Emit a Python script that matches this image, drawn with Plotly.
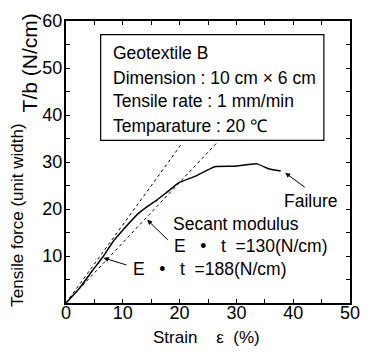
import plotly.graph_objects as go

# ---- data ----
strain = [0, 2.4, 4.6, 6.6, 8.3, 10.3, 12.6, 14.3, 16.0, 18.0, 19.9, 22.8, 26.2, 29.6, 33.6, 35.8, 37.8]
force = [0, 3.2, 6.8, 10.0, 13.1, 15.9, 18.9, 20.5, 21.9, 23.8, 25.6, 27.0, 29.0, 29.1, 29.6, 28.5, 28.1]

tangent_x = [0, 20.2]
tangent_y = [0, 33.6]
secant_x = [0, 26.8]
secant_y = [0, 34.4]

x_ticks = [0, 10, 20, 30, 40, 50]
y_ticks = [10, 20, 30, 40, 50, 60]

box_lines = [
    "Geotextile B",
    "Dimension : 10 cm × 6 cm",
    "Tensile rate : 1 mm/min",
    "Temparature : 20 ℃",
]

FONT = "Liberation Sans, Arial, Helvetica, sans-serif"
FS = 17.5

fig = go.Figure()
fig.add_trace(go.Scatter(x=tangent_x, y=tangent_y, mode="lines",
                         line=dict(color="black", width=1, dash="dot"), hoverinfo="skip"))
fig.add_trace(go.Scatter(x=secant_x, y=secant_y, mode="lines",
                         line=dict(color="black", width=1, dash="dot"), hoverinfo="skip"))
fig.add_trace(go.Scatter(x=strain, y=force, mode="lines", line_shape="spline",
                         line=dict(color="black", width=1.5, smoothing=0.4), hoverinfo="skip"))

# info box
fig.add_shape(type="rect", x0=6.1, x1=45.4, y0=34.6, y1=57.1, xref="x", yref="y",
              line=dict(color="black", width=1.2), fillcolor="white", layer="above")
box_y = [53.1, 47.9, 42.9, 37.7]
anns = []
for txt, yy in zip(box_lines, box_y):
    anns.append(dict(x=8.0, y=yy, xref="x", yref="y", text=txt, showarrow=False,
                     xanchor="left", yanchor="middle", font=dict(size=FS, color="black", family=FONT)))

# labels with arrows
anns.append(dict(x=38.6, y=27.7, ax=42.3, ay=24.4, xref="x", yref="y", axref="x", ayref="y",
                 text="", showarrow=True, arrowhead=2, arrowsize=1, arrowwidth=1, arrowcolor="black"))
anns.append(dict(x=38.1, y=21.6, xref="x", yref="y", text="Failure", showarrow=False,
                 xanchor="left", yanchor="middle", font=dict(size=FS, color="black", family=FONT)))

anns.append(dict(x=14.3, y=17.7, ax=18.2, ay=13.1, xref="x", yref="y", axref="x", ayref="y",
                 text="", showarrow=True, arrowhead=2, arrowsize=1, arrowwidth=1, arrowcolor="black"))
anns.append(dict(x=18.5, y=16.9, xref="x", yref="y", text="Secant modulus", showarrow=False,
                 xanchor="left", yanchor="middle", font=dict(size=FS, color="black", family=FONT)))
anns.append(dict(x=18.7, y=12.1, xref="x", yref="y", text="E   •   t  =130(N/cm)", showarrow=False,
                 xanchor="left", yanchor="middle", font=dict(size=FS, color="black", family=FONT)))

anns.append(dict(x=6.6, y=9.6, ax=10.9, ay=8.0, xref="x", yref="y", axref="x", ayref="y",
                 text="", showarrow=True, arrowhead=2, arrowsize=1, arrowwidth=1, arrowcolor="black"))
anns.append(dict(x=11.4, y=7.3, xref="x", yref="y", text="E   •   t  =188(N/cm)", showarrow=False,
                 xanchor="left", yanchor="middle", font=dict(size=FS, color="black", family=FONT)))

# axis titles
anns.append(dict(x=0.493, y=-0.122, xref="paper", yref="paper", text="Strain    ε  (%)", showarrow=False,
                 xanchor="center", yanchor="middle", font=dict(size=17, color="black", family=FONT)))
anns.append(dict(x=-0.172, y=0.31, xref="paper", yref="paper", text="Tensile force (unit width)",
                 textangle=-90, showarrow=False, xanchor="center", yanchor="middle",
                 font=dict(size=17, color="black", family=FONT)))
anns.append(dict(x=-0.128, y=0.852, xref="paper", yref="paper", text="T/b (N/cm)",
                 textangle=-90, showarrow=False, xanchor="center", yanchor="middle",
                 font=dict(size=21, color="black", family=FONT)))

axis_common = dict(showline=True, linecolor="black", linewidth=2, mirror="ticks",
                   ticks="inside", ticklen=4, tickwidth=1, tickcolor="black",
                   showgrid=False, zeroline=False,
                   tickfont=dict(size=18, color="black", family=FONT),
                   minor=dict(ticks="inside", ticklen=4, dtick=5, tickcolor="black", showgrid=False))

fig.update_xaxes(range=[0, 50], tickvals=x_ticks, ticklabelstandoff=-8, **axis_common)
fig.update_yaxes(range=[0, 60], tickvals=y_ticks, ticklabelstandoff=-2, **axis_common)

fig.update_layout(width=371, height=352, margin=dict(l=66, r=11, t=15, b=49),
                  plot_bgcolor="white", paper_bgcolor="white", showlegend=False,
                  annotations=anns, font=dict(family=FONT, color="black"))

fig.write_html("out.html")
